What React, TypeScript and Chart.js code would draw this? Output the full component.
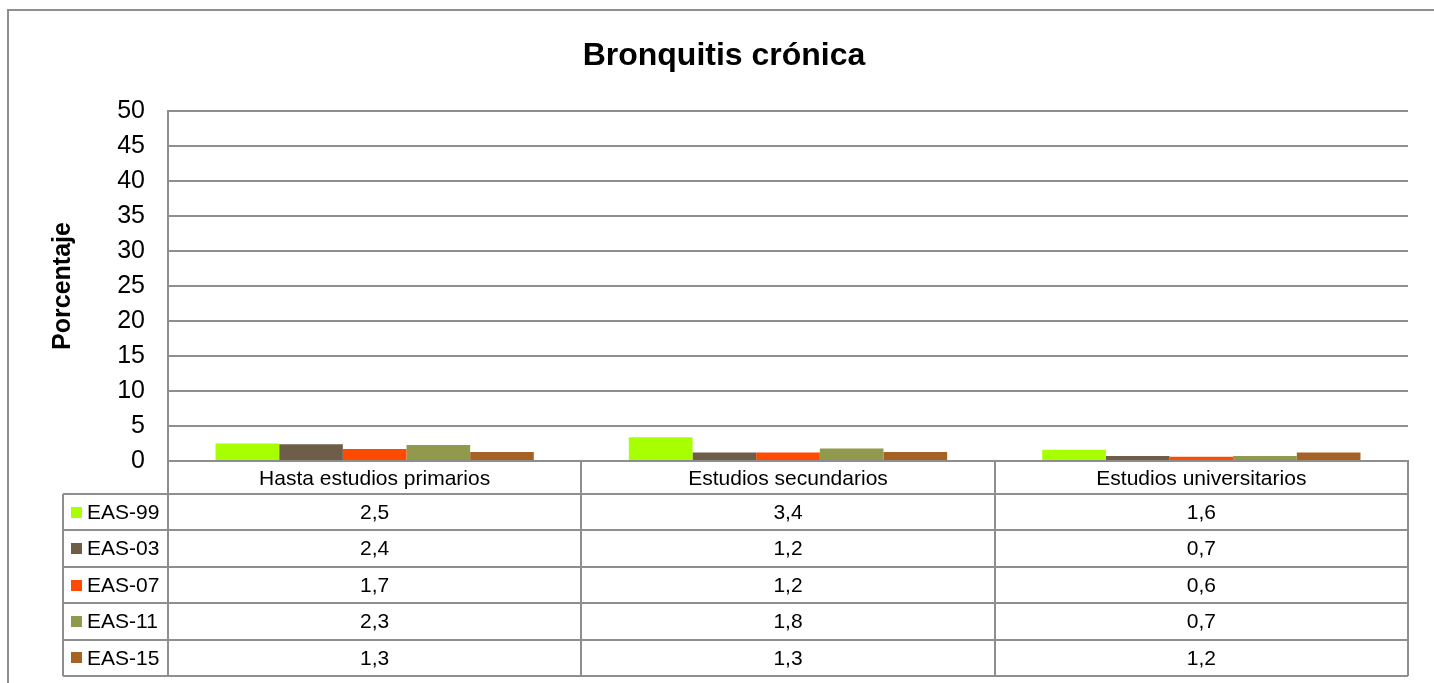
import React, { useEffect, useRef } from 'react';
import { Chart, registerables } from 'chart.js';

Chart.register(...registerables);

const TITLE = 'Bronquitis crónica';
const Y_TITLE = 'Porcentaje';
const categories = ['Hasta estudios primarios', 'Estudios secundarios', 'Estudios universitarios'];
const seriesNames = ['EAS-99', 'EAS-03', 'EAS-07', 'EAS-11', 'EAS-15'];
const eas99 = [2.5, 3.4, 1.6];
const eas03 = [2.4, 1.2, 0.7];
const eas07 = [1.7, 1.2, 0.6];
const eas11 = [2.3, 1.8, 0.7];
const eas15 = [1.3, 1.3, 1.2];
const seriesValues = [eas99, eas03, eas07, eas11, eas15];
const seriesColors = ['#A8FF00', '#6E5E48', '#FF4A00', '#919A4C', '#A66224'];
const yMin = 0;
const yMax = 50;
const yStep = 5;

const FONT = "'Liberation Sans', Arial, Helvetica, sans-serif";
const GRID = '#8e8e8e';

const fmt = (v: number) => v.toFixed(1).replace('.', ',');

const framePlugin = {
  id: 'frame',
  beforeDraw(chart: any) {
    const { ctx } = chart;
    ctx.save();
    ctx.fillStyle = '#ffffff';
    ctx.fillRect(0, 0, chart.width, chart.height);
    ctx.strokeStyle = GRID;
    ctx.lineWidth = 2;
    ctx.strokeRect(8, 10, chart.width + 20, chart.height + 40);
    ctx.restore();
  },
};

const tablePlugin = {
  id: 'dataTable',
  afterDraw(chart: any) {
    const { ctx, chartArea, scales } = chart;
    const xs = scales.x;
    const top = chartArea.bottom;
    const headerH = 33;
    const rowH = 36.4;
    const legendLeft = 63;
    const right = chartArea.right;
    const bottom = top + headerH + rowH * seriesNames.length;
    ctx.save();
    ctx.strokeStyle = GRID;
    ctx.lineWidth = 2;
    ctx.beginPath();
    for (let r = 0; r <= seriesNames.length; r++) {
      const y = Math.round(top + headerH + r * rowH);
      ctx.moveTo(legendLeft, y);
      ctx.lineTo(right, y);
    }
    ctx.moveTo(legendLeft, Math.round(top + headerH));
    ctx.lineTo(legendLeft, Math.round(bottom));
    for (let i = 0; i <= categories.length; i++) {
      const x = Math.round(xs.getPixelForValue(i - 0.5));
      ctx.moveTo(x, top);
      ctx.lineTo(x, Math.round(bottom));
    }
    ctx.stroke();

    ctx.font = `21px ${FONT}`;
    ctx.textBaseline = 'middle';
    ctx.fillStyle = '#000';
    for (let r = 0; r < seriesNames.length; r++) {
      const cy = top + headerH + r * rowH + rowH / 2;
      ctx.fillStyle = seriesColors[r];
      ctx.fillRect(71, Math.round(cy - 5.5), 11, 11);
      ctx.fillStyle = '#000';
      ctx.textAlign = 'left';
      ctx.fillText(seriesNames[r], 87, cy + 1);
      ctx.textAlign = 'center';
      for (let c = 0; c < categories.length; c++) {
        const cx = xs.getPixelForValue(c);
        ctx.fillText(fmt(seriesValues[r][c]), cx, cy + 1);
      }
    }
    ctx.restore();
  },
};

export default function App() {
  const ref = useRef<HTMLCanvasElement>(null);
  useEffect(() => {
    if (!ref.current) return;
    const chart = new Chart(ref.current, {
      type: 'bar',
      data: {
        labels: categories,
        datasets: seriesNames.map((name, i) => ({
          label: name,
          data: seriesValues[i],
          backgroundColor: seriesColors[i],
          borderWidth: 0,
          categoryPercentage: 0.77,
          barPercentage: 1,
        })),
      },
      options: {
        animation: false,
        responsive: true,
        maintainAspectRatio: false,
        layout: { padding: { left: 40, right: 26, top: 0, bottom: 0 } },
        plugins: {
          legend: { display: false },
          tooltip: { enabled: false },
          title: {
            display: true,
            text: TITLE,
            color: '#000',
            font: { family: FONT, size: 32, weight: 'bold', lineHeight: 1.2 },
            padding: { top: 37, bottom: 35.6 },
          },
        },
        scales: {
          x: {
            grid: { display: false, drawTicks: false },
            border: { display: true, color: GRID, width: 2 },
            ticks: {
              color: '#000',
              font: { family: FONT, size: 21 },
              padding: 6,
              maxRotation: 0,
              autoSkip: false,
            },
            afterFit(scale: any) {
              scale.height = 222;
            },
          },
          y: {
            min: yMin,
            max: yMax,
            grid: { color: GRID, lineWidth: 2, drawTicks: false },
            border: { display: true, color: GRID, width: 2 },
            ticks: {
              stepSize: yStep,
              color: '#000',
              font: { family: FONT, size: 25 },
              padding: 23,
            },
            title: {
              display: true,
              text: Y_TITLE,
              color: '#000',
              font: { family: FONT, size: 25, weight: 'bold', lineHeight: 1.2 },
              padding: { top: 8, bottom: 0 },
            },
            afterFit(scale: any) {
              scale.width = 128;
            },
          },
        },
      },
      plugins: [framePlugin, tablePlugin],
    });
    return () => chart.destroy();
  }, []);
  return (
    <div style={{ position: 'absolute', left: 0, top: 0, width: 1434, height: 683 }}>
      <canvas ref={ref} />
    </div>
  );
}
